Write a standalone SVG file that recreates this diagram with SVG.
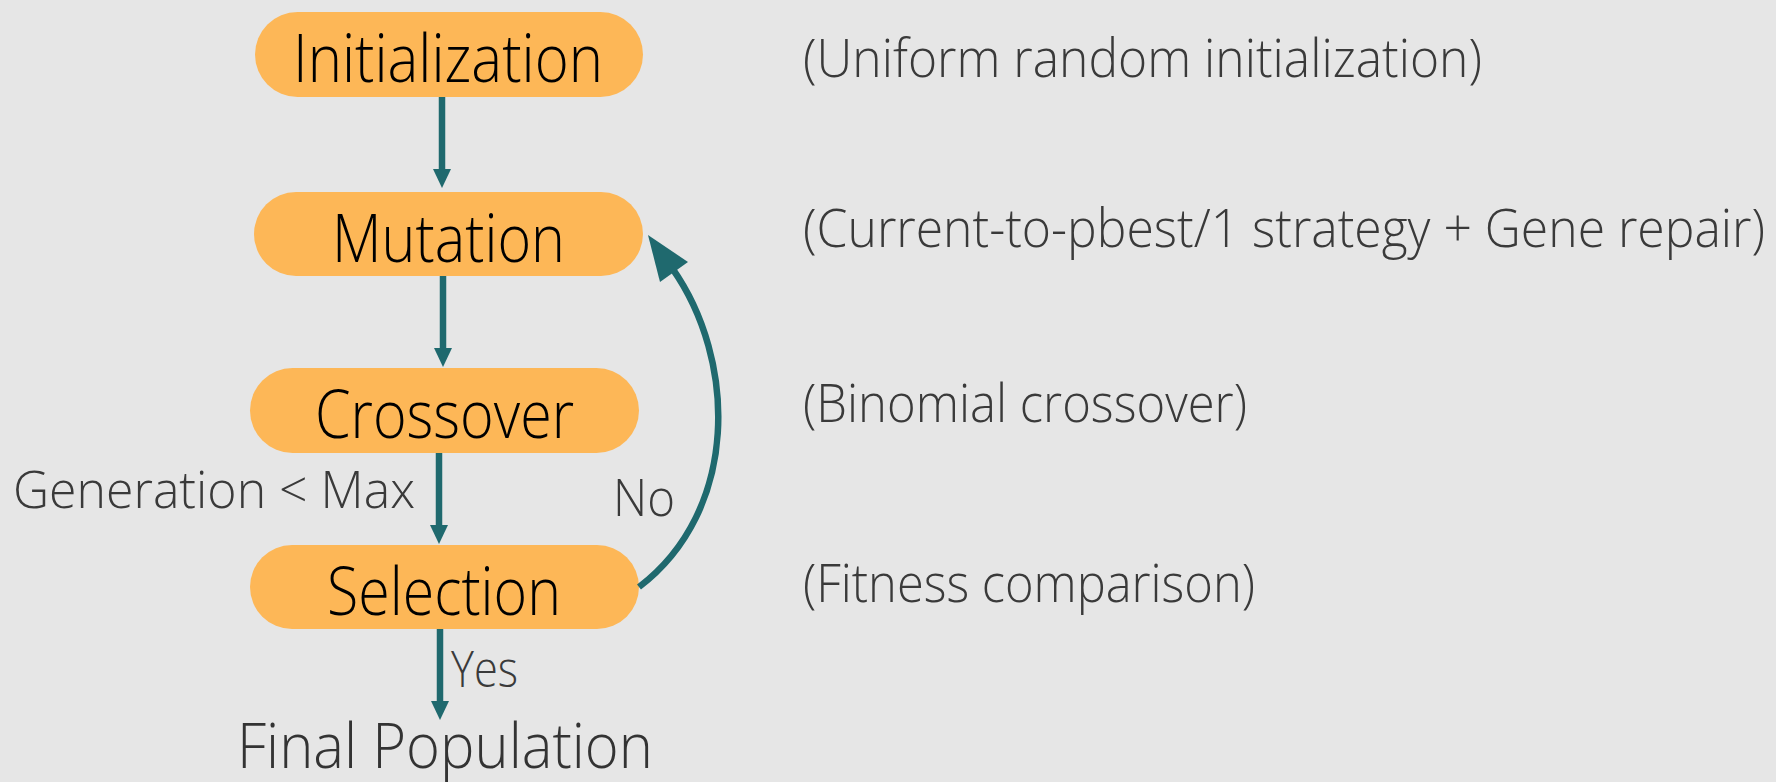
<svg xmlns="http://www.w3.org/2000/svg" width="1776" height="782" viewBox="0 0 1776 782">
  <style>
    .pill { fill: #fdb757; }
    .step { font-family: "Open Sans", "Liberation Sans", sans-serif; font-weight: 300; font-size: 66px; fill: #000000; }
    .note { font-family: "Open Sans", "Liberation Sans", sans-serif; font-weight: 300; font-size: 53px; fill: #3a3a3a; }
    .lbl { font-family: "Open Sans", "Liberation Sans", sans-serif; font-weight: 300; font-size: 51px; fill: #3a3a3a; }
    .edge { stroke: #1f696e; stroke-width: 6.5; fill: none; }
    .head { fill: #1f696e; }
  </style>
  <defs>
    <!-- arrowhead pointing along the line direction -->
    <marker id="tri" markerUnits="userSpaceOnUse" markerWidth="19" markerHeight="18" refX="1" refY="9" orient="auto" viewBox="0 0 19 18">
      <path d="M0,0 L19,9 L0,18 Z" class="head"/>
    </marker>
  </defs>
  <rect width="1776" height="782" fill="#e6e6e6"/>

  <!-- process steps -->
  <g id="node-initialization">
    <rect class="pill" x="255" y="12" width="388" height="85" rx="42.5"/>
    <text class="step" x="293" y="82" textLength="310" lengthAdjust="spacingAndGlyphs">Initialization</text>
  </g>
  <g id="node-mutation">
    <rect class="pill" x="254" y="192" width="389" height="84" rx="42"/>
    <text class="step" x="332" y="262" textLength="233" lengthAdjust="spacingAndGlyphs">Mutation</text>
  </g>
  <g id="node-crossover">
    <rect class="pill" x="250" y="368" width="389" height="85" rx="42.5"/>
    <text class="step" x="315" y="438" textLength="259" lengthAdjust="spacingAndGlyphs">Crossover</text>
  </g>
  <g id="node-selection">
    <rect class="pill" x="250" y="545" width="389" height="84" rx="42"/>
    <text class="step" x="327" y="615" textLength="234" lengthAdjust="spacingAndGlyphs">Selection</text>
  </g>
  <g id="node-final">
    <text class="step" x="237" y="768" style="font-size:62px;fill:#333333" textLength="416" lengthAdjust="spacingAndGlyphs">Final Population</text>
  </g>

  <!-- step descriptions -->
  <g id="notes">
    <text class="note" x="803" y="77" textLength="679" lengthAdjust="spacingAndGlyphs">(Uniform random initialization)</text>
    <text class="note" x="803" y="247" textLength="962" lengthAdjust="spacingAndGlyphs">(Current-to-pbest/1 strategy + Gene repair)</text>
    <text class="note" x="803" y="422" textLength="444" lengthAdjust="spacingAndGlyphs">(Binomial crossover)</text>
    <text class="note" x="803" y="602" textLength="452" lengthAdjust="spacingAndGlyphs">(Fitness comparison)</text>
  </g>

  <!-- connectors -->
  <g id="connectors">
    <line class="edge" x1="442" y1="97" x2="442" y2="170" marker-end="url(#tri)"/>
    <line class="edge" x1="443" y1="276" x2="443" y2="349" marker-end="url(#tri)"/>
    <line class="edge" x1="439" y1="453" x2="439" y2="526" marker-end="url(#tri)"/>
    <line class="edge" x1="440" y1="629" x2="440" y2="702" marker-end="url(#tri)"/>
    <path class="edge" d="M639,587 C740,510 737,360 672,268"/>
    <polygon class="head" points="648,235 688,262 660,282"/>
    <text class="lbl" x="13" y="508" textLength="402" lengthAdjust="spacingAndGlyphs">Generation &lt; Max</text>
    <text class="lbl" x="613" y="516" textLength="62" lengthAdjust="spacingAndGlyphs">No</text>
    <text class="lbl" x="451" y="687" style="font-size:50px" textLength="67" lengthAdjust="spacingAndGlyphs">Yes</text>
  </g>
</svg>
